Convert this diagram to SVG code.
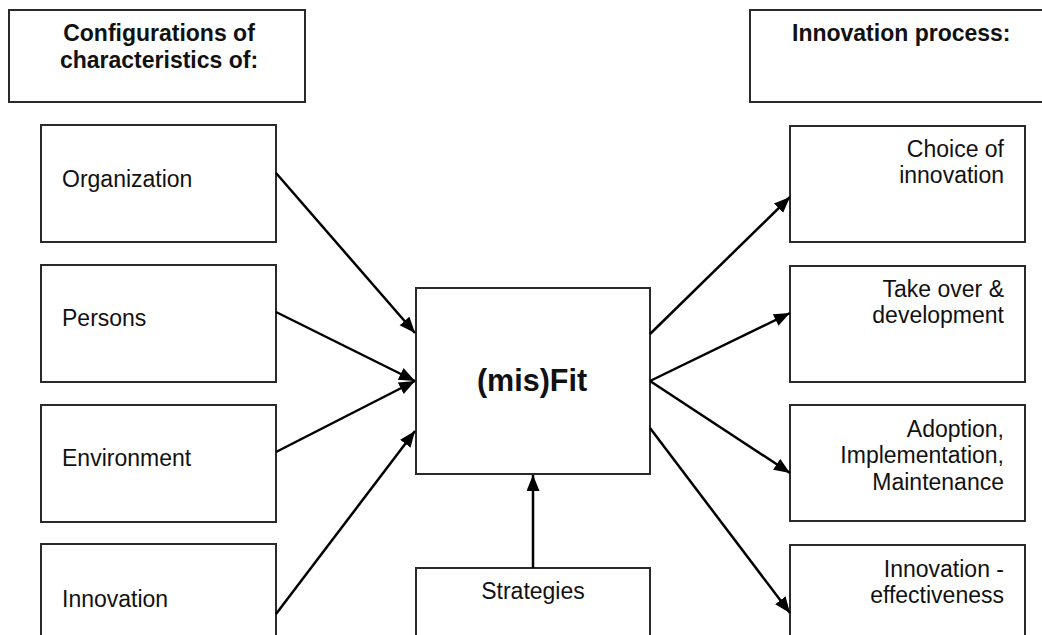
<svg xmlns="http://www.w3.org/2000/svg" width="1042" height="635" viewBox="0 0 1042 635">
<style>
.box{fill:#fff;stroke:#2a2a2a;stroke-width:2}
.t{font-family:"Liberation Sans",Arial,sans-serif;font-size:23px;fill:#111}
.b{font-weight:bold}
.r{text-anchor:end}
.c{text-anchor:middle}
.ln{stroke:#000;stroke-width:2.5;fill:none;marker-end:url(#ah)}
</style>
<defs>
<marker id="ah" markerUnits="userSpaceOnUse" markerWidth="18" markerHeight="14" refX="16" refY="6.5" orient="auto">
<path d="M0,0 L16,6.5 L0,13 z" fill="#000"/>
</marker>
</defs>
<rect width="1042" height="635" fill="#fff"/>
<g id="hdr-left"><rect class="box" x="9" y="10" width="296" height="92"/>
<text class="t b c" x="159" y="41">Configurations of</text>
<text class="t b c" x="159" y="68">characteristics of:</text></g>
<g id="hdr-right"><rect class="box" x="750" y="10" width="310" height="92"/>
<text class="t b" x="792" y="41">Innovation process:</text></g>
<g id="organization"><rect class="box" x="41" y="125" width="235" height="117"/><text class="t" x="62" y="187">Organization</text></g>
<g id="persons"><rect class="box" x="41" y="265" width="235" height="117"/><text class="t" x="62" y="326">Persons</text></g>
<g id="environment"><rect class="box" x="41" y="405" width="235" height="117"/><text class="t" x="62" y="466">Environment</text></g>
<g id="innovation"><rect class="box" x="41" y="544" width="235" height="117"/><text class="t" x="62" y="607">Innovation</text></g>
<g id="misfit"><rect class="box" x="416" y="288" width="234" height="186"/><text class="t b c" x="532" y="391" style="font-size:30.5px">(mis)Fit</text></g>
<g id="strategies"><rect class="box" x="416" y="568" width="234" height="117"/><text class="t c" x="533" y="599">Strategies</text></g>
<g id="choice"><rect class="box" x="790" y="126" width="235" height="116"/><text class="t r" x="1004" y="157">Choice of</text><text class="t r" x="1004" y="183">innovation</text></g>
<g id="takeover"><rect class="box" x="790" y="266" width="235" height="116"/><text class="t r" x="1004" y="297">Take over &amp;</text><text class="t r" x="1004" y="323">development</text></g>
<g id="adoption"><rect class="box" x="790" y="405" width="235" height="116"/><text class="t r" x="1004" y="437">Adoption,</text><text class="t r" x="1004" y="463">Implementation,</text><text class="t r" x="1004" y="490">Maintenance</text></g>
<g id="effectiveness"><rect class="box" x="790" y="545" width="235" height="116"/><text class="t r" x="1004" y="577">Innovation -</text><text class="t r" x="1004" y="603">effectiveness</text></g>
<g id="connectors">
<line class="ln" x1="276" y1="173" x2="415" y2="333"/>
<line class="ln" x1="276" y1="312" x2="415" y2="381"/>
<line class="ln" x1="276" y1="452" x2="415" y2="381"/>
<line class="ln" x1="276" y1="614" x2="415" y2="431"/>
<line class="ln" x1="650" y1="334" x2="790" y2="197"/>
<line class="ln" x1="650" y1="381" x2="790" y2="313"/>
<line class="ln" x1="650" y1="381" x2="790" y2="473"/>
<line class="ln" x1="650" y1="428" x2="790" y2="613"/>
<line class="ln" x1="533" y1="568" x2="533" y2="475"/>
</g>
</svg>
